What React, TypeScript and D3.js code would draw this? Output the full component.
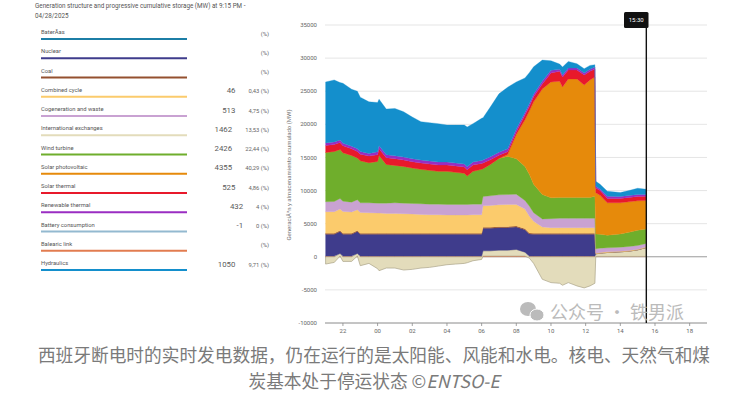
import * as d3 from 'd3';
import React from 'react';

// time stamps of the samples (local time, night of 27 -> 28 April 2025)
const times = [
  '2025-04-27 21:00', '2025-04-27 21:30', '2025-04-27 21:50', '2025-04-27 22:00', '2025-04-27 22:30',
  '2025-04-27 22:50', '2025-04-27 23:00', '2025-04-27 23:30', '2025-04-28 00:00', '2025-04-28 00:05',
  '2025-04-28 00:30', '2025-04-28 01:00', '2025-04-28 01:30', '2025-04-28 02:00', '2025-04-28 02:30',
  '2025-04-28 03:00', '2025-04-28 03:30', '2025-04-28 04:00', '2025-04-28 04:30', '2025-04-28 05:00',
  '2025-04-28 05:10', '2025-04-28 05:30', '2025-04-28 06:00', '2025-04-28 06:05', '2025-04-28 06:30',
  '2025-04-28 07:00', '2025-04-28 07:30', '2025-04-28 08:00', '2025-04-28 08:30', '2025-04-28 08:45',
  '2025-04-28 09:00', '2025-04-28 09:30', '2025-04-28 10:00', '2025-04-28 10:30', '2025-04-28 10:40',
  '2025-04-28 11:00', '2025-04-28 11:30', '2025-04-28 11:55', '2025-04-28 12:15', '2025-04-28 12:32',
  '2025-04-28 12:35', '2025-04-28 12:50', '2025-04-28 13:15', '2025-04-28 14:00', '2025-04-28 14:30',
  '2025-04-28 15:00', '2025-04-28 15:30',
];

// MW per technology, same order as times
const balearic = [100, 100, 100, 100, 100, 100, 100, 100, 100, 100, 100, 100, 100, 100, 100, 100, 100, 100, 100, 100, 100, 100, 100, 100, 100, 100, 100, 100, 100, 100, 100, 100, 100, 100, 100, 100, 100, 100, 100, 100, 50, 50, 50, 50, 50, 50, 50];
const international = [-1100, -850, 400, -700, -700, 400, -1350, -1000, -1800, -2100, -1700, -1700, -2000, -1900, -1700, -1600, -1400, -1200, -1100, -1000, -900, -600, -400, 800, 800, 900, 900, 1000, 600, -200, -1000, -3400, -3900, -4000, -4300, -3900, -4400, -4700, -4400, -4000, 400, 500, 600, 700, 800, 1000, 1350];
const nuclear = [3300, 3300, 3300, 3300, 3300, 3300, 3300, 3300, 3300, 3300, 3300, 3300, 3300, 3300, 3300, 3300, 3300, 3300, 3300, 3300, 3300, 3300, 3300, 3400, 3400, 3400, 3400, 3400, 3400, 3350, 3300, 3300, 3300, 3300, 3300, 3300, 3300, 3300, 3300, 3300, 0, 0, 0, 0, 0, 0, 0];
const coal = [150, 150, 150, 150, 150, 150, 150, 150, 150, 150, 150, 150, 150, 150, 150, 150, 150, 150, 150, 150, 150, 150, 150, 150, 150, 150, 150, 150, 150, 150, 150, 150, 150, 150, 150, 150, 150, 150, 150, 150, 0, 0, 0, 0, 0, 0, 0];
const combinedCycle = [3250, 3250, 3250, 3300, 3200, 3150, 3150, 3100, 3050, 3050, 3000, 3000, 2950, 2900, 2850, 2800, 2800, 2750, 2750, 2750, 2750, 2800, 2800, 3250, 3300, 3300, 3350, 3250, 2950, 2550, 1800, 950, 850, 850, 850, 850, 850, 850, 850, 850, 100, 100, 100, 100, 100, 100, 100];
const cogeneration = [1500, 1550, 1600, 1550, 1500, 1500, 1450, 1500, 1500, 1500, 1550, 1600, 1600, 1600, 1600, 1600, 1600, 1600, 1600, 1600, 1600, 1600, 1600, 1400, 1450, 1500, 1500, 1550, 1300, 1500, 1300, 1200, 1350, 1400, 1400, 1400, 1400, 1400, 1400, 1400, 650, 650, 600, 600, 600, 550, 500];
const wind = [7450, 7550, 7400, 7300, 7050, 6300, 6350, 6050, 6300, 7200, 5850, 5650, 5550, 5350, 5200, 5100, 4950, 5000, 4850, 4700, 4300, 4950, 5250, 4200, 4750, 5500, 5750, 5350, 5150, 4800, 4300, 3700, 3150, 3150, 3150, 3150, 3150, 3150, 3150, 3350, 2250, 2100, 1900, 2000, 2150, 2300, 2200];
const solarPv = [0, 0, 0, 0, 0, 0, 0, 0, 0, 0, 0, 0, 0, 0, 0, 0, 0, 0, 0, 0, 0, 0, 0, 0, 0, 0, 300, 3650, 7050, 9550, 12450, 15950, 17500, 17550, 16700, 17900, 17900, 17000, 17750, 18000, 6200, 5900, 4900, 4700, 4600, 4450, 4300];
const solarThermal = [1050, 1050, 1050, 1050, 1000, 1000, 1000, 1000, 1000, 1000, 1000, 1000, 950, 950, 950, 950, 950, 950, 950, 950, 950, 950, 900, 850, 700, 500, 400, 400, 700, 700, 750, 750, 1350, 1500, 1500, 1350, 1350, 1500, 1300, 1200, 750, 700, 650, 650, 650, 650, 650];
const renewableThermal = [400, 400, 400, 400, 400, 400, 400, 400, 450, 450, 450, 450, 450, 450, 450, 450, 450, 450, 450, 450, 450, 450, 450, 450, 450, 450, 450, 450, 400, 400, 400, 400, 400, 300, 300, 300, 300, 300, 300, 300, 250, 250, 350, 300, 300, 300, 250];
const hydraulics = [9200, 9350, 8650, 9050, 8600, 8700, 8200, 7800, 7450, 7050, 6900, 7150, 6850, 6300, 5800, 5800, 5800, 5600, 5750, 5900, 6000, 5800, 6350, 6400, 7500, 8800, 9300, 7100, 5200, 4700, 4150, 3200, 1450, 800, 1200, 1000, 650, 650, 600, 350, 750, 700, 750, 600, 750, 950, 800];

// legend panel (values at 9:15 PM)
const legendNames = ['BaterÃas', 'Nuclear', 'Coal', 'Combined cycle', 'Cogeneration and waste', 'International exchanges', 'Wind turbine', 'Solar photovoltaic', 'Solar thermal', 'Renewable thermal', 'Battery consumption', 'Balearic link', 'Hydraulics'];
const legendColors = ['#1c7ea6', '#3f3c8c', '#94502f', '#fbcb6c', '#c9a2d2', '#e3dcbb', '#6fae2c', '#e68a0b', '#e8192b', '#9a2dc2', '#93b9d0', '#e27c50', '#148fcc'];
const legendValues = ['', '', '', '46', '513', '1462', '2426', '4355', '525', '432', '-1', '', '1050'];
const legendPcts = ['', '', '', '0,43', '4,75', '13,53', '22,44', '40,29', '4,86', '4', '0', '', '9,71'];

const yTicks = [-10000, -5000, 0, 5000, 10000, 15000, 20000, 25000, 30000, 35000];

const stackKeys = ['Balearic link', 'International exchanges', 'Nuclear', 'Coal', 'Combined cycle', 'Cogeneration and waste', 'Wind turbine', 'Solar photovoltaic', 'Solar thermal', 'Renewable thermal', 'Hydraulics'];
const seriesByKey = {
  'Balearic link': balearic,
  'International exchanges': international,
  'Nuclear': nuclear,
  'Coal': coal,
  'Combined cycle': combinedCycle,
  'Cogeneration and waste': cogeneration,
  'Wind turbine': wind,
  'Solar photovoltaic': solarPv,
  'Solar thermal': solarThermal,
  'Renewable thermal': renewableThermal,
  'Hydraulics': hydraulics,
};

const parse = d3.timeParse('%Y-%m-%d %H:%M');
const font = 'Roboto, "Noto Sans", sans-serif';

// like d3.stackOffsetDiverging, but a zero value sits on top of the positive stack
// instead of dropping to the baseline (avoids wedges when a series switches on)
function offsetDivergingTop(series: any[], order: number[]) {
  if (!series.length) return;
  for (let j = 0; j < series[0].length; j++) {
    let yp = 0, yn = 0;
    for (let i = 0; i < order.length; i++) {
      const d = series[order[i]][j];
      const dy = d[1] - d[0];
      if (dy >= 0) { d[0] = yp; d[1] = yp += dy; }
      else { d[1] = yn; d[0] = yn += dy; }
    }
  }
}

export default function App() {
  const x = d3.scaleTime()
    .domain([parse('2025-04-27 21:00'), parse('2025-04-28 19:00')])
    .range([325.6, 707]);
  const y = d3.scaleLinear().domain([-10000, 35000]).range([323, 25]);

  const rows = times.map((t, i) => {
    const r: any = { date: parse(t) };
    stackKeys.forEach(k => { r[k] = seriesByKey[k][i]; });
    return r;
  });
  const stacked = d3.stack().keys(stackKeys).offset(offsetDivergingTop)(rows);
  const area = d3.area<any>()
    .x(d => x(d.data.date))
    .y0(d => y(d[0]))
    .y1(d => y(d[1]));
  const colorOf = (k: string) => legendColors[legendNames.indexOf(k)];

  const xTicks = x.ticks(d3.timeHour.every(2));
  const fmt = d3.timeFormat('%H');
  const cursorX = x(parse('2025-04-28 15:30'));

  return (
    <svg width={747} height={394} style={{ position: 'absolute', left: 0, top: 0, background: '#fff' }}>
      {/* left legend panel */}
      <text x={35} y={8} fontSize={6.3} fill="#555" fontFamily={font}>
        Generation structure and progressive cumulative storage (MW) at 9:15 PM -
      </text>
      <text x={35} y={18} fontSize={6.3} fill="#555" fontFamily={font}>04/28/2025</text>
      {legendNames.map((name, i) => {
        const cy = 32 + i * 19.25;
        return (
          <g key={name}>
            <text x={41} y={cy + 2} fontSize={5.8} fill="#555" fontFamily={font}>{name}</text>
            <line x1={41} x2={187} y1={cy + 7} y2={cy + 7} stroke={legendColors[i]} strokeWidth={1.8} />
            <text x={269} y={cy + 3.5} textAnchor="end" fontFamily={font}>
              {legendValues[i] !== '' && <tspan fontSize={7.8} fill="#5a5a5a">{legendValues[i]}</tspan>}
              {legendValues[i] !== '' && <tspan dx={13} fontSize={5.8} fill="#666">{legendPcts[i]} (%)</tspan>}
              {legendValues[i] === '' && <tspan fontSize={5.8} fill="#666">(%)</tspan>}
            </text>
          </g>
        );
      })}

      {/* grid */}
      {yTicks.map(v => (
        <g key={v}>
          <line x1={325} x2={707} y1={y(v)} y2={y(v)}
            stroke={v === 0 ? '#9a9a9a' : v === -10000 ? '#8a8a8a' : '#dedede'}
            strokeWidth={v === 0 || v === -10000 ? 1 : 0.8} />
          <text x={317} y={y(v)} dy="0.35em" textAnchor="end" fontSize={6} fill="#666" fontFamily={font}>{v}</text>
        </g>
      ))}

      {/* stacked areas */}
      {stacked.map(s => (
        <path key={s.key} d={area(s) || ''} fill={colorOf(s.key)}
          stroke={s.key === 'International exchanges' ? '#aaa488' : colorOf(s.key)}
          strokeWidth={s.key === 'International exchanges' ? 0.7 : 0.3} />
      ))}

      {/* x axis */}
      {xTicks.map(t => (
        <g key={+t}>
          <line x1={x(t)} x2={x(t)} y1={323} y2={326} stroke="#8a8a8a" strokeWidth={0.8} />
          <text x={x(t)} y={333} textAnchor="middle" fontSize={6} fill="#666" fontFamily={font}>{fmt(t)}</text>
        </g>
      ))}

      <text transform="translate(291,175) rotate(-90)" textAnchor="middle" fontSize={6} fill="#777" fontFamily={font}>
        GeneraciÃ³n y almacenamiento acumulado (MW)
      </text>

      {/* cursor */}
      <line x1={cursorX} x2={cursorX} y1={27} y2={323} stroke="#111" strokeWidth={1.4} />
      <rect x={624} y={12} width={24.5} height={16} rx={1.5} fill="#111" />
      <text x={636.2} y={22.3} textAnchor="middle" fontSize={6} fill="#fff" fontFamily={font}>15:30</text>

      {/* watermark */}
      <g fill="#b4b4b4" opacity={0.9}>
        <ellipse cx={528} cy={309} rx={8} ry={7} />
        <ellipse cx={537} cy={315} rx={7} ry={6} stroke="#fff" strokeWidth={1} />
        <text x={550} y={319} fontSize={18} fontFamily='"Noto Sans CJK SC", sans-serif'>公众号 · 铁男派</text>
      </g>

      {/* caption */}
      <text x={374} y={362} textAnchor="middle" fontSize={17.7} fill="#7a7a7a" fontFamily='"Noto Sans CJK SC", sans-serif'>
        西班牙断电时的实时发电数据，仍在运行的是太阳能、风能和水电。核电、天然气和煤
      </text>
      <text x={374} y={388} textAnchor="middle" fontSize={17.7} fill="#7a7a7a" fontFamily='"Noto Sans CJK SC", sans-serif'>
        炭基本处于停运状态 ©<tspan fontStyle="italic">ENTSO-E</tspan>
      </text>
    </svg>
  );
}
